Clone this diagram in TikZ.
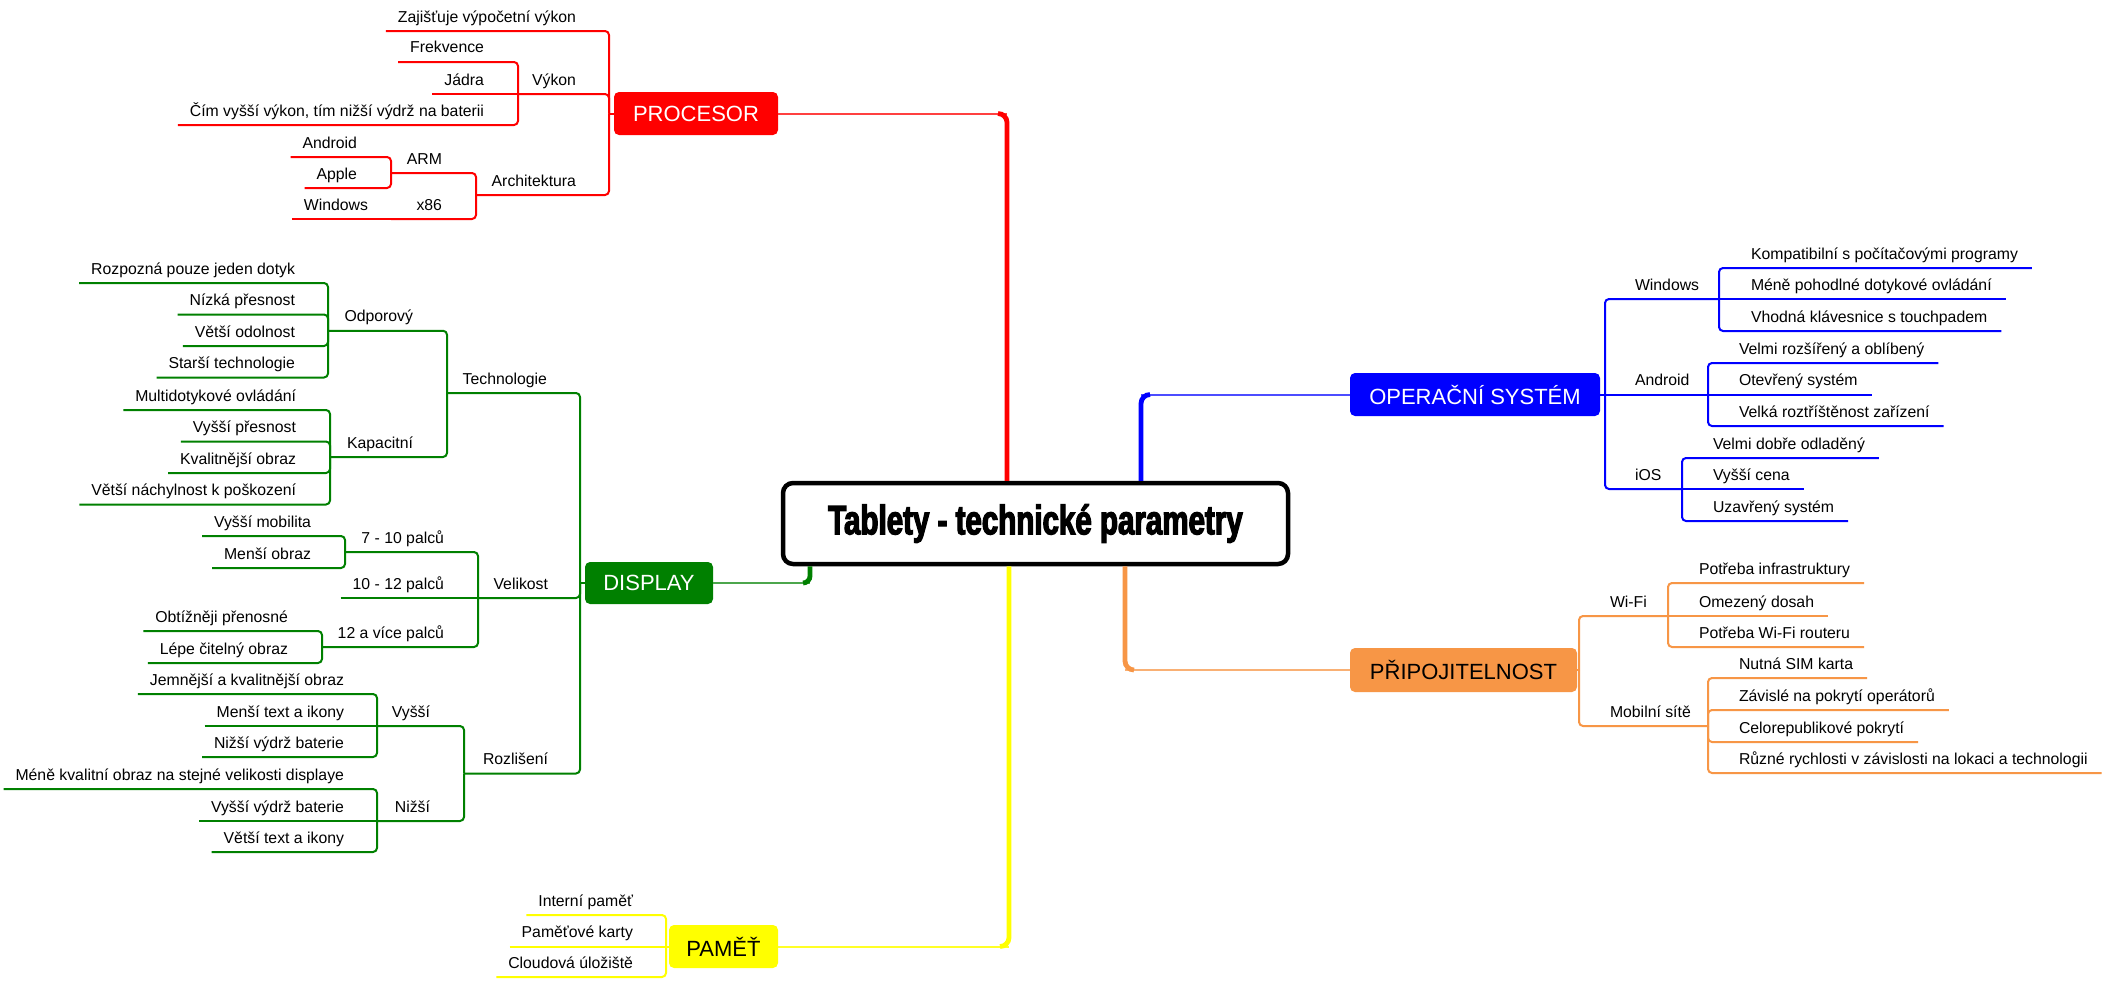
\documentclass[tikz,border=0pt]{standalone}
\usepackage{fontspec}
\setmainfont{Liberation Sans}
\newfontfamily\titlefont[FakeStretch=0.72,BoldFeatures={FakeBold=3}]{Liberation Sans}
\usetikzlibrary{calc}
\definecolor{cRed}{RGB}{255,0,0}
\definecolor{cBlue}{RGB}{0,0,255}
\definecolor{cGreen}{RGB}{0,128,0}
\definecolor{cOrange}{RGB}{247,150,70}
\definecolor{cYellow}{RGB}{255,255,0}
\tikzset{
  leaf/.style={font=\fontsize{7.9pt}{9pt}\selectfont, inner sep=0pt, outer sep=0pt, text=black},
  br/.style={line width=1pt, rounded corners=2pt},
  topic/.style={rounded corners=2.5pt, font=\fontsize{11pt}{13pt}\selectfont, inner sep=0pt, minimum height=21.5pt},
  thinc/.style={line width=1pt},
  thickc/.style={line width=2.4pt, rounded corners=4.5pt},
}
% left leaf: name, text right x, underline y, parent joint, text
\newcommand\lleaf[5]{\node[leaf,anchor=base east] (#1) at (#2,#3-9) {#5};
  \draw[br] ($(#1.base west)+(-12,9)$) -| (#4);}
\newcommand\lleafm[5]{\node[leaf,anchor=base east] (#1) at (#2,#3-9) {#5};
  \draw[br] ($(#1.base west)+(-12,9)$) -- (#4);}
% left parent: name, text right x, underline y, bracket x, parent joint, text
\newcommand\lpar[6]{\node[leaf,anchor=base east] (#1) at (#2,#3-9) {#6};
  \coordinate (#1J) at (#4,#3);
  \draw[br] (#1J) -| (#5);}
% right leaf: name, text left x, underline y, parent joint, text
\newcommand\rleaf[5]{\node[leaf,anchor=base west] (#1) at (#2,#3-9) {#5};
  \draw[br] ($(#1.base east)+(14,9)$) -| (#4);}
\newcommand\rleafm[5]{\node[leaf,anchor=base west] (#1) at (#2,#3-9) {#5};
  \draw[br] ($(#1.base east)+(14,9)$) -- (#4);}
\newcommand\rpar[6]{\node[leaf,anchor=base west] (#1) at (#2,#3-9) {#6};
  \coordinate (#1J) at (#4,#3);
  \draw[br] (#1J) -| (#5);}
\newcommand\rparm[6]{\node[leaf,anchor=base west] (#1) at (#2,#3-9) {#6};
  \coordinate (#1J) at (#4,#3);
  \draw[br] (#1J) -- (#5);}
\begin{document}
\begin{tikzpicture}[x=0.5pt,y=-0.5pt]
\fill[white] (0,0) rectangle (2111,985);
\useasboundingbox (0,0) rectangle (2111,985);

% central node
\node[draw, line width=2.25pt, rounded corners=5pt, fill=white, minimum width=252.5pt,
      minimum height=40.5pt, inner sep=0pt] (center) at (1035.5,523.5)
      {\titlefont\bfseries\fontsize{20.5pt}{23pt}\selectfont Tablety - technické parametry};

% main topics
\node[topic, fill=cRed, text=white, minimum width=82pt] (proc) at (696,113.5) {PROCESOR};
\node[topic, fill=cBlue, text=white, minimum width=125pt] (os) at (1475,394.5) {OPERAČNÍ SYSTÉM};
\node[topic, fill=cOrange, text=black, minimum width=113.5pt, minimum height=22pt] (conn) at (1463.5,670) {PŘIPOJITELNOST};
\node[topic, fill=cGreen, text=white, minimum width=64pt, minimum height=21pt] (disp) at (649,583) {DISPLAY};
\node[topic, fill=cYellow, text=black, minimum width=54.5pt] (pam) at (723.5,946.5) {PAMĚŤ};

% main connectors
\coordinate (rc) at (1007,113.5);
\coordinate (bc) at (1141,394.5);
\coordinate (oc) at (1125,670);
\coordinate (yc) at (1009,946.5);
\coordinate (gc) at (810,583);
\draw[cRed!75!white, thinc] (proc.east) -- (rc);
\draw[cRed, thickc] ($(rc)+(-9,0)$) -- (rc) -- (rc |- center.north);
\draw[cBlue!70!white, thinc] (os.west) -- (bc);
\draw[cBlue, thickc] ($(bc)+(9,0)$) -- (bc) -- (bc |- center.north);
\draw[cOrange!75!white, thinc] (conn.west) -- (oc);
\draw[cOrange, thickc] ($(oc)+(9,0)$) -- (oc) -- (oc |- center.south);
\draw[cYellow!85!white, thinc] (pam.east) -- (yc);
\draw[cYellow, thickc] ($(yc)+(-9,0)$) -- (yc) -- (yc |- center.south);
\draw[cGreen!70!white, thinc] (disp.east) -- (gc);
\draw[cGreen, thickc, rounded corners=3.5pt] ($(gc)+(-7,0)$) -- (gc) -- (gc |- center.south);

% PROCESOR branch
\begin{scope}[color=cRed]
\coordinate (procJ) at (609,113.5);
\draw[br] (proc.west) -- (procJ);
\lleaf{zaj}{576}{31}{procJ}{Zajišťuje výpočetní výkon}
\lpar{vykon}{576}{94}{518}{procJ}{Výkon}
\lleaf{frek}{484}{62}{vykonJ}{Frekvence}
\lleafm{jadra}{484}{94}{vykonJ}{Jádra}
\lleaf{cim}{484}{125}{vykonJ}{Čím vyšší výkon, tím nižší výdrž na baterii}
\lpar{arch}{576}{195}{476}{procJ}{Architektura}
\lpar{arm}{442}{173}{391}{archJ}{ARM}
\lleaf{andp}{357}{157}{armJ}{Android}
\lleaf{appl}{357}{188}{armJ}{Apple}
\lpar{xes}{442}{219}{391}{archJ}{x86}
\lleafm{winp}{368}{219}{xesJ}{Windows}
\end{scope}

% DISPLAY branch
\begin{scope}[color=cGreen]
\coordinate (dispJ) at (580,583);
\draw[br] (disp.west) -- (dispJ);
\lpar{tech}{547}{393}{447}{dispJ}{Technologie}
\lpar{odp}{413}{330.75}{328}{techJ}{Odporový}
\lleaf{o1}{295}{283}{odpJ}{Rozpozná pouze jeden dotyk}
\lleaf{o2}{295}{314.5}{odpJ}{Nízká přesnost}
\lleaf{o3}{295}{346}{odpJ}{Větší odolnost}
\lleaf{o4}{295}{377.5}{odpJ}{Starší technologie}
\lpar{kap}{413}{457}{330}{techJ}{Kapacitní}
\lleaf{k1}{296}{410}{kapJ}{Multidotykové ovládání}
\lleaf{k2}{296}{441.5}{kapJ}{Vyšší přesnost}
\lleaf{k3}{296}{473}{kapJ}{Kvalitnější obraz}
\lleaf{k4}{296}{504.5}{kapJ}{Větší náchylnost k poškození}
\lpar{vel}{548}{598}{478}{dispJ}{Velikost}
\lpar{s710}{444}{552}{345}{velJ}{7 - 10 palců}
\lleaf{v1}{311}{536}{s710J}{Vyšší mobilita}
\lleaf{v2}{311}{568}{s710J}{Menší obraz}
\lleafm{s1012}{444}{598}{velJ}{10 - 12 palců}
\lpar{s12}{444}{647}{322}{velJ}{12 a více palců}
\lleaf{v3}{288}{631}{s12J}{Obtížněji přenosné}
\lleaf{v4}{288}{663}{s12J}{Lépe čitelný obraz}
\lpar{roz}{548}{773.5}{464}{dispJ}{Rozlišení}
\lpar{vys}{430}{726}{377}{rozJ}{Vyšší}
\lleaf{r1}{344}{694}{vysJ}{Jemnější a kvalitnější obraz}
\lleafm{r2}{344}{726}{vysJ}{Menší text a ikony}
\lleaf{r3}{344}{757}{vysJ}{Nižší výdrž baterie}
\lpar{niz}{430}{821}{377}{rozJ}{Nižší}
\lleaf{r4}{344}{789}{nizJ}{Méně kvalitní obraz na stejné velikosti displaye}
\lleafm{r5}{344}{821}{nizJ}{Vyšší výdrž baterie}
\lleaf{r6}{344}{852}{nizJ}{Větší text a ikony}
\end{scope}

% PAMET branch
\begin{scope}[color=cYellow]
\coordinate (pamJ) at (666,946.5);
\draw[br] (pam.west) -- (pamJ);
\lleaf{p1}{633}{915}{pamJ}{Interní paměť}
\lleafm{p2}{633}{946.5}{pamJ}{Paměťové karty}
\lleaf{p3}{633}{977}{pamJ}{Cloudová úložiště}
\end{scope}

% OPERACNI SYSTEM branch
\begin{scope}[color=cBlue]
\coordinate (osJ) at (1605,394.5);
\draw[br] (os.east) -- (osJ);
\rpar{win}{1635}{299}{1719}{osJ}{Windows}
\rleaf{w1}{1751}{268}{winJ}{Kompatibilní s počítačovými programy}
\rleafm{w2}{1751}{299}{winJ}{Méně pohodlné dotykové ovládání}
\rleaf{w3}{1751}{331}{winJ}{Vhodná klávesnice s touchpadem}
\rparm{andr}{1635}{394.5}{1708}{osJ}{Android}
\rleaf{a1}{1739}{363}{andrJ}{Velmi rozšířený a oblíbený}
\rleafm{a2}{1739}{394.5}{andrJ}{Otevřený systém}
\rleaf{a3}{1739}{426}{andrJ}{Velká roztříštěnost zařízení}
\rpar{ios}{1635}{489}{1682}{osJ}{iOS}
\rleaf{i1}{1713}{458}{iosJ}{Velmi dobře odladěný}
\rleafm{i2}{1713}{489}{iosJ}{Vyšší cena}
\rleaf{i3}{1713}{521}{iosJ}{Uzavřený systém}
\end{scope}

% PRIPOJITELNOST branch
\begin{scope}[color=cOrange]
\coordinate (connJ) at (1579,670);
\draw[br] (conn.east) -- (connJ);
\rpar{wifi}{1610}{616}{1668}{connJ}{Wi-Fi}
\rleaf{f1}{1699}{583}{wifiJ}{Potřeba infrastruktury}
\rleafm{f2}{1699}{616}{wifiJ}{Omezený dosah}
\rleaf{f3}{1699}{647}{wifiJ}{Potřeba Wi-Fi routeru}
\rpar{mob}{1610}{726}{1708}{connJ}{Mobilní sítě}
\rleaf{m1}{1739}{678}{mobJ}{Nutná SIM karta}
\rleaf{m2}{1739}{710}{mobJ}{Závislé na pokrytí operátorů}
\rleaf{m3}{1739}{742}{mobJ}{Celorepublikové pokrytí}
\rleaf{m4}{1739}{773}{mobJ}{Různé rychlosti v závislosti na lokaci a technologii}
\end{scope}
\end{tikzpicture}
\end{document}
